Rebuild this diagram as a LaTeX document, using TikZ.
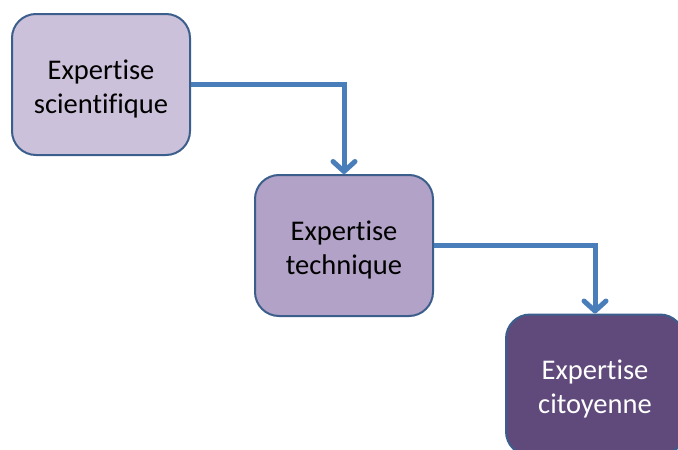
\documentclass[tikz,border=0pt]{standalone}
\usepackage{fontspec}
\setmainfont{Carlito}[Ligatures=CommonOff]
\usetikzlibrary{arrows.meta}
\definecolor{boxline}{HTML}{3B5E8C}
\definecolor{flow}{HTML}{4A7EBB}
\definecolor{lilac}{HTML}{CCC1DA}
\definecolor{mauve}{HTML}{B2A2C7}
\definecolor{plum}{HTML}{604A7B}
\begin{document}
\begin{tikzpicture}[x=1pt,y=-1pt,
  stage/.style={draw=boxline,line width=2pt,rounded corners=24pt,minimum width=178pt,minimum height=141pt,align=center,text height=62pt,font=\fontsize{28.5}{34}\selectfont},
  flowarrow/.style={draw=flow,line width=5pt,-{Straight Barb[length=10pt,width=22pt,round]}}]
\useasboundingbox (0,0) rectangle (678,450);
\node[stage,fill=lilac](sci) at (101,84.5){Expertise\\scientifique};
\node[stage,fill=mauve](tech) at (344,245.5){Expertise\\technique};
\node[stage,fill=plum,text=white](cit) at (595,385){Expertise\\citoyenne};
\draw[flowarrow](sci.east) -| (tech.north);
\draw[flowarrow](tech.east) -| (cit.north);
\end{tikzpicture}
\end{document}
